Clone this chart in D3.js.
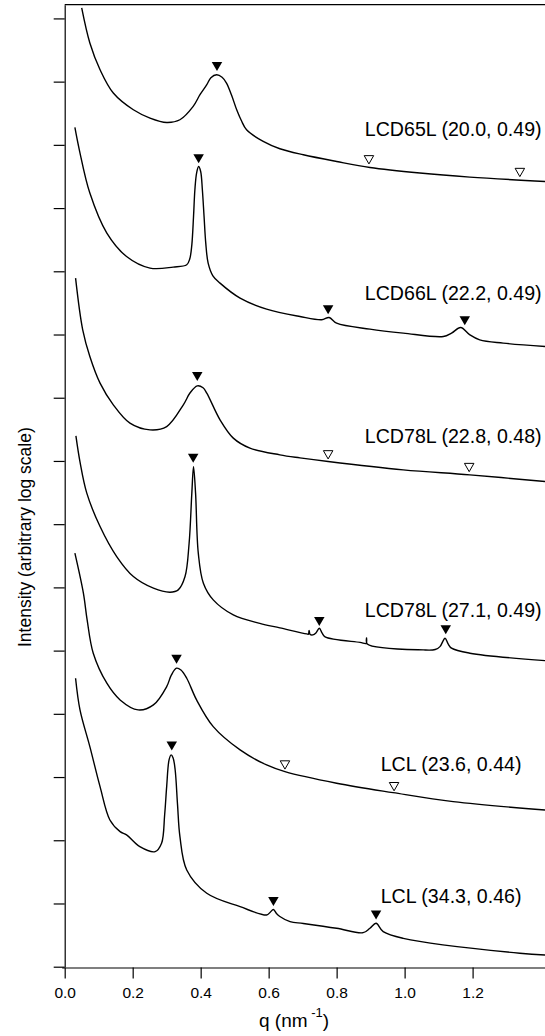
<!DOCTYPE html>
<html><head><meta charset="utf-8">
<script src="https://cdn.jsdelivr.net/npm/d3@7"></script>
<style>
body{margin:0;background:#fff}
svg{display:block}
text{font-family:"Liberation Sans",Arial,Helvetica,sans-serif;fill:#000}
</style>
</head><body>
<svg id="chart" width="545" height="1036"></svg>
<script>
// ---- tick labels ----
const xTickValues = [0, 0.2, 0.4, 0.6, 0.8, 1.0, 1.2];
const yDecades = d3.range(0, 16);           // log10 intensity ticks (unlabelled)

// ---- series (q in nm^-1, log10 of intensity, arbitrary units) ----
const q_LCD65L_20 = [0.050,0.074,0.104,0.143,0.202,0.251,0.300,0.339,0.378,0.398,0.418,0.430,0.447,0.463,0.476,0.491,0.506,0.520,0.535,0.584,0.633,0.702,0.800,0.898,1.045,1.192,1.413];
const logI_LCD65L_20 = [15.165,14.611,14.188,13.820,13.555,13.424,13.354,13.397,13.608,13.793,13.951,14.062,14.109,14.070,13.978,13.785,13.555,13.381,13.239,13.054,12.938,12.843,12.737,12.642,12.554,12.490,12.421];

const q_LCD66L_22 = [0.030,0.043,0.074,0.124,0.182,0.251,0.319,0.359,0.368,0.374,0.379,0.383,0.388,0.394,0.400,0.405,0.410,0.415,0.422,0.436,0.457,0.516,0.594,0.692,0.756,0.778,0.800,0.898,0.996,1.114,1.138,1.165,1.192,1.221,1.290,1.413];
const logI_LCD66L_22 = [13.275,12.922,12.237,11.604,11.234,11.051,11.066,11.103,11.198,11.419,11.867,12.290,12.554,12.658,12.579,12.290,11.867,11.446,11.130,10.929,10.813,10.576,10.402,10.285,10.233,10.269,10.180,10.085,10.022,9.968,10.022,10.111,9.995,9.916,9.864,9.810];

const q_LCD78L_22 = [0.032,0.053,0.074,0.104,0.143,0.192,0.251,0.300,0.349,0.369,0.390,0.407,0.418,0.457,0.496,0.545,0.633,0.692,0.775,0.996,1.192,1.413];
const logI_LCD78L_22 = [10.892,10.074,9.652,9.231,8.888,8.598,8.492,8.544,8.888,9.078,9.188,9.157,9.073,8.650,8.361,8.203,8.097,8.049,7.991,7.859,7.780,7.674];

const q_LCD78L_27 = [0.033,0.045,0.065,0.104,0.153,0.202,0.261,0.310,0.334,0.354,0.366,0.374,0.379,0.385,0.393,0.408,0.437,0.496,0.574,0.633,0.712,0.717,0.719,0.722,0.730,0.739,0.749,0.757,0.766,0.869,0.887,0.888,0.890,1.055,1.090,1.104,1.119,1.128,1.138,1.192,1.413];
const logI_LCD78L_27 = [8.397,7.986,7.491,6.962,6.487,6.171,5.987,5.924,5.960,6.171,6.699,7.491,7.911,7.491,6.541,6.066,5.802,5.565,5.430,5.359,5.264,5.261,5.320,5.256,5.248,5.280,5.354,5.280,5.217,5.130,5.114,5.201,5.106,5.011,5.017,5.063,5.196,5.106,5.038,4.959,4.842];

const q_LCL_23 = [0.030,0.055,0.066,0.084,0.124,0.163,0.216,0.261,0.300,0.314,0.329,0.342,0.359,0.388,0.437,0.516,0.594,0.648,0.800,0.966,1.143,1.413];
const logI_LCL_23 = [6.541,5.908,5.486,4.959,4.484,4.220,4.062,4.141,4.430,4.616,4.722,4.693,4.563,4.220,3.797,3.429,3.191,3.085,2.902,2.753,2.611,2.479];

const q_LCL_34 = [0.032,0.045,0.074,0.104,0.133,0.163,0.182,0.221,0.266,0.285,0.294,0.300,0.307,0.313,0.319,0.325,0.332,0.339,0.359,0.418,0.516,0.594,0.604,0.614,0.623,0.633,0.663,0.702,0.800,0.878,0.898,0.916,0.937,0.996,1.339,1.413];
const logI_LCL_34 = [4.563,4.062,3.481,2.848,2.321,2.136,2.084,1.899,1.820,1.953,2.400,2.848,3.271,3.350,3.302,3.112,2.559,2.057,1.530,1.161,0.949,0.818,0.858,0.905,0.842,0.794,0.712,0.684,0.608,0.538,0.608,0.687,0.554,0.449,0.212,0.185];

// ---- peak markers [q, log10 I] ----
const filled_LCD65L_20 = [[0.448,14.241]];
const open_LCD65L_20   = [[0.895,12.764],[1.339,12.563]];
const filled_LCD66L_22 = [[0.394,12.780],[0.775,10.391],[1.177,10.217]];
const open_LCD66L_22   = [];
const filled_LCD78L_22 = [[0.390,9.335]];
const open_LCD78L_22   = [[0.775,8.097],[1.190,7.896]];
const filled_LCD78L_27 = [[0.378,8.044],[0.749,5.462],[1.121,5.328]];
const open_LCD78L_27   = [];
const filled_LCL_23    = [[0.329,4.864]];
const open_LCL_23      = [[0.648,3.191],[0.969,2.848]];
const filled_LCL_34    = [[0.315,3.492],[0.614,1.032],[0.916,0.818]];
const open_LCL_34      = [];

// ---- labels ----
const labelTexts = ["LCD65L (20.0, 0.49)","LCD66L (22.2, 0.49)","LCD78L (22.8, 0.48)","LCD78L (27.1, 0.49)","LCL (23.6, 0.44)","LCL (34.3, 0.46)"];
const labelQ     = [1.403,1.403,1.403,1.403,1.344,1.344];
const labelLogI  = [13.133,10.549,8.282,5.538,3.101,1.003];

const series = [
  {q:q_LCD65L_20, v:logI_LCD65L_20, f:filled_LCD65L_20, o:open_LCD65L_20},
  {q:q_LCD66L_22, v:logI_LCD66L_22, f:filled_LCD66L_22, o:open_LCD66L_22},
  {q:q_LCD78L_22, v:logI_LCD78L_22, f:filled_LCD78L_22, o:open_LCD78L_22},
  {q:q_LCD78L_27, v:logI_LCD78L_27, f:filled_LCD78L_27, o:open_LCD78L_27},
  {q:q_LCL_23,    v:logI_LCL_23,    f:filled_LCL_23,    o:open_LCL_23},
  {q:q_LCL_34,    v:logI_LCL_34,    f:filled_LCL_34,    o:open_LCL_34}
];

// ---- layout ----
const pLeft = 64.7, pRight = 545, pTop = 4.7, pBottom = 966.7;

const x = d3.scaleLinear().domain([0, 1.413]).range([pLeft, pRight]);
const y = d3.scaleLog().domain([1, Math.pow(10, 15.217)]).range([pBottom, pTop]);
const Y = d => y(Math.pow(10, d));

const svg = d3.select("#chart");

svg.append("defs").append("clipPath").attr("id","plot")
  .append("rect").attr("x", pLeft).attr("y", pTop).attr("width", pRight-pLeft).attr("height", pBottom-pTop);

// frame top line
svg.append("line").attr("x1", pLeft).attr("x2", pRight).attr("y1", pTop).attr("y2", pTop)
  .attr("stroke","#000").attr("stroke-width",1.2);

// y axis
const yAxis = d3.axisLeft(y).tickValues(yDecades.map(k => Math.pow(10,k))).tickFormat("").tickSize(11).tickSizeOuter(0);
const gy = svg.append("g").attr("transform", `translate(${pLeft},0)`).call(yAxis);
gy.select(".domain").attr("stroke-width",1.2);
gy.selectAll(".tick line").attr("stroke-width",1.2);

// x axis
const xAxis = d3.axisBottom(x).tickValues(xTickValues).tickFormat(d3.format(".1f")).tickSize(11).tickSizeOuter(0).tickPadding(8);
const gx = svg.append("g").attr("transform", `translate(0,${pBottom+0.8})`).call(xAxis);
gx.select(".domain").attr("stroke-width",1.2).attr("d", `M${pLeft-2.5},0.5H${pRight}`);
gx.selectAll(".tick line").attr("stroke-width",1.2);
gx.selectAll(".tick text").style("font-size","15.5px").style("font-family",'"Liberation Sans",Arial,sans-serif');

// axis titles
const xt = svg.append("text").attr("x", 294).attr("y", 1027).attr("text-anchor","middle").style("font-size","19px");
xt.append("tspan").text("q (nm");
xt.append("tspan").attr("dy",-10).style("font-size","13px").text(" -1");
xt.append("tspan").attr("dy",10).text(")");

svg.append("text").attr("transform","translate(31,647) rotate(-90)").attr("text-anchor","start")
  .style("font-size","17.5px").text("Intensity (arbitrary log scale)");

// curves
const line = d3.line().x(d => x(d[0])).y(d => Y(d[1])).curve(d3.curveCatmullRom.alpha(0.5));
const gc = svg.append("g").attr("clip-path","url(#plot)");
series.forEach(s => {
  const pts = s.q.map((qq,i) => [qq, s.v[i]]);
  gc.append("path").attr("d", line(pts)).attr("fill","none").attr("stroke","#000").attr("stroke-width",1.4).attr("stroke-linejoin","round");
});

// markers (downward triangles)
const tri = (w,h) => `M${-w/2},${-h/2}L${w/2},${-h/2}L0,${h/2}Z`;
series.forEach(s => {
  s.f.forEach(m => svg.append("path").attr("d", tri(10.5,9)).attr("transform",`translate(${x(m[0])},${Y(m[1])})`).attr("fill","#000"));
  s.o.forEach(m => svg.append("path").attr("d", tri(9.5,8.3)).attr("transform",`translate(${x(m[0])},${Y(m[1])})`).attr("fill","#fff").attr("stroke","#000").attr("stroke-width",1));
});

// labels
labelTexts.forEach((t,i) => {
  svg.append("text").attr("x", x(labelQ[i])).attr("y", Y(labelLogI[i])).attr("text-anchor","end")
    .style("font-size","19.6px").text(t);
});
</script>
</body></html>
